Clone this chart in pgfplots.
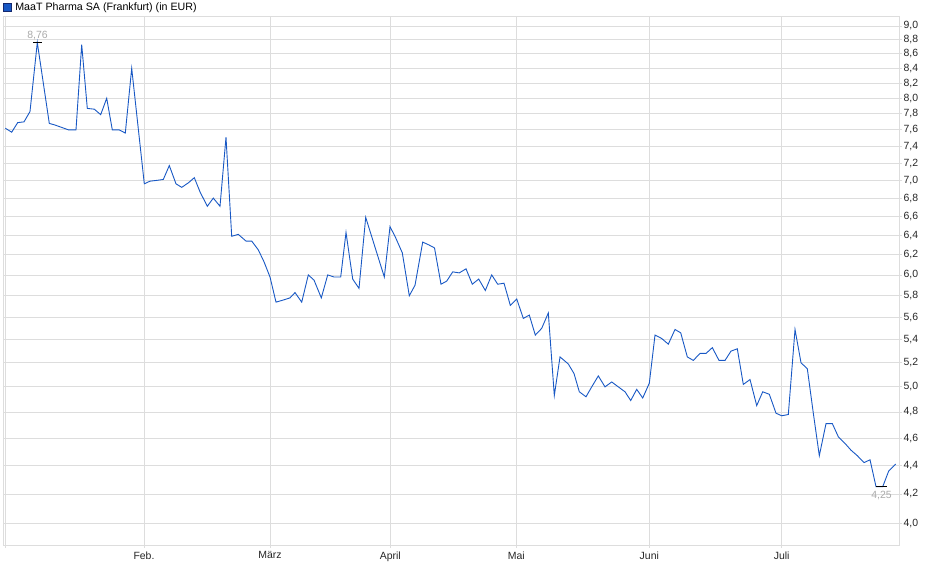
\documentclass[border=0pt]{standalone}
\usepackage{fontspec}
\setmainfont{Liberation Sans}
\usepackage{pgfplots}
\pgfplotsset{compat=1.18}
\definecolor{linec}{RGB}{24,88,196}
\definecolor{gridc}{RGB}{221,221,221}
\definecolor{lblc}{RGB}{170,170,170}
\definecolor{navyc}{RGB}{20,40,110}
\begin{document}
\begin{tikzpicture}[x=1bp,y=1bp]
\useasboundingbox (0,0) rectangle (940,579);
\begin{axis}[
  at={(3bp,34bp)}, anchor=south west,
  scale only axis, width=896bp, height=529bp,
  xmin=3, xmax=899,
  ymode=log, ymin=3.8656, ymax=9.1475,
  xtick={5,144,270,390.3,516.3,649.3,781.7},
  xticklabels={,Feb.,März,April,Mai,Juni,Juli},
  ytick={4.0,4.2,4.4,4.6,4.8,5.0,5.2,5.4,5.6,5.8,6.0,6.2,6.4,6.6,6.8,7.0,7.2,7.4,7.6,7.8,8.0,8.2,8.4,8.6,8.8,9.0},
  yticklabels={{4,0},{4,2},{4,4},{4,6},{4,8},{5,0},{5,2},{5,4},{5,6},{5,8},{6,0},{6,2},{6,4},{6,6},{6,8},{7,0},{7,2},{7,4},{7,6},{7,8},{8,0},{8,2},{8,4},{8,6},{8,8},{9,0}},
  ytick pos=right, yticklabel pos=right,
  xtick pos=bottom,
  tick align=outside,
  major tick length=3bp,
  tick style={gridc, line width=0.8bp},
  grid=major,
  major grid style={gridc, line width=0.8bp},
  axis line style={gridc, line width=0.8bp},
  ticklabel style={font=\fontsize{10.5}{12}\selectfont, text=black!85},
  yticklabel style={xshift=-2bp},
  legend style={at={(0,1.0165)}, anchor=west, draw=none, fill=none,
    inner sep=0pt, outer sep=0pt, font=\fontsize{10.7}{12}\selectfont,
    legend cell align=left},
  legend image code/.code={\draw[fill=linec, draw=navyc, line width=0.8bp] (0.5bp,-3.8bp) rectangle (8bp,3.8bp); \path (10bp,0bp);},
  clip=false,
]
\addplot[linec, line width=0.9bp] coordinates {
(5.3,7.62) (11.7,7.57) (17.7,7.69) (24,7.70) (30,7.83) (37.3,8.76)
(49.3,7.68) (55,7.66) (61.7,7.63) (68.3,7.60) (76,7.60) (81.7,8.73)
(87.3,7.87) (94.3,7.86) (100.7,7.79) (106.7,8.00) (112.3,7.60) (119,7.60)
(125.3,7.56) (131.7,8.40) (144.3,6.96) (150,6.99) (157.3,7.00) (163.3,7.01)
(169.3,7.17) (176,6.96) (181.7,6.92) (188.3,6.97) (194.3,7.03) (200,6.87)
(207.3,6.71) (213.3,6.80) (220,6.71) (226,7.51) (231.7,6.39) (238.3,6.41)
(246,6.34) (251.7,6.34) (258.3,6.25) (264,6.13) (270,5.98) (276,5.74)
(283.3,5.76) (290,5.78) (295,5.83) (301.7,5.74) (308.3,6.00) (314,5.95)
(321.3,5.78) (327.7,6.00) (334,5.98) (340.7,5.98) (346,6.43) (352.7,5.96)
(359,5.87) (365.7,6.59) (384.3,5.98) (390,6.49) (395,6.39) (402.3,6.22)
(409.3,5.80) (415,5.90) (422.7,6.33) (429,6.30) (434.5,6.27) (441,5.91)
(446.7,5.94) (452.7,6.03) (459.3,6.02) (466,6.06) (472.3,5.91) (478.7,5.96)
(485.3,5.85) (491.7,6.00) (497.7,5.91) (504,5.92) (510.3,5.71) (516.7,5.77)
(523.3,5.59) (529.3,5.62) (535.3,5.44) (541.7,5.50) (548.3,5.64) (554.3,4.93)
(560,5.25) (568.3,5.19) (574,5.11) (579.3,4.96) (586,4.92) (591.7,5.00)
(598.3,5.09) (605,5.00) (611.7,5.04) (618.3,5.00) (625,4.96) (630.7,4.89)
(636.7,4.98) (642.7,4.91) (649.3,5.03) (655,5.44) (661.7,5.41) (668.3,5.36)
(675,5.49) (680.7,5.46) (687.3,5.25) (693.3,5.22) (700,5.28) (706,5.28)
(712.3,5.33) (719,5.22) (725,5.22) (731,5.30) (737.3,5.32) (743.3,5.02)
(750,5.06) (756.7,4.85) (762.7,4.96) (769.3,4.94) (776,4.79) (781.7,4.77)
(788.3,4.78) (795,5.49) (801,5.20) (807.3,5.15) (813.3,4.79) (819.3,4.47)
(826,4.71) (832.3,4.71) (838.3,4.61) (845,4.56) (851,4.51) (857.3,4.47)
(864,4.42) (870,4.44) (876,4.25) (882.7,4.25) (888.7,4.36) (895.7,4.41)
};
\addlegendentry{MaaT Pharma SA (Frankfurt) (in EUR)}
\addplot[black, line width=0.9bp, forget plot] coordinates {(33,8.76) (42,8.76)};
\addplot[black, line width=0.9bp, forget plot] coordinates {(876,4.25) (887,4.25)};
\node[lblc, font=\fontsize{10.5}{12}\selectfont, anchor=south, inner sep=2.5bp] at (axis cs:37.5,8.76) {8,76};
\node[lblc, font=\fontsize{10.5}{12}\selectfont, anchor=north, inner sep=4bp] at (axis cs:881.5,4.25) {4,25};
\end{axis}
\end{tikzpicture}
\end{document}
